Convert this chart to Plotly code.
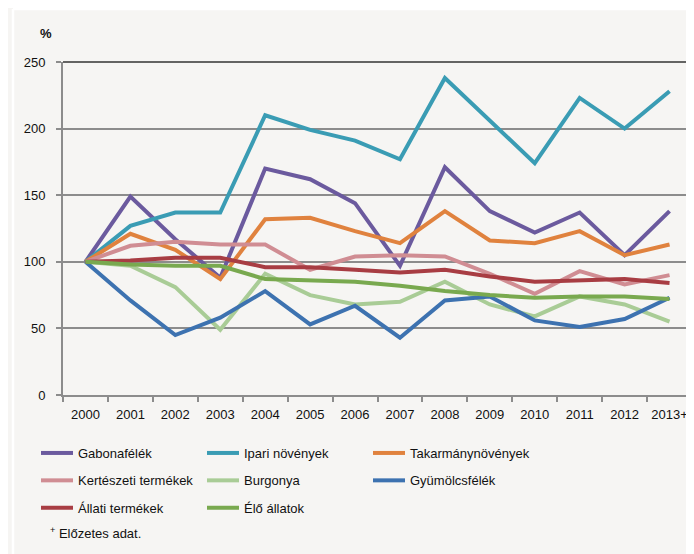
import plotly.graph_objects as go

years = ["2000", "2001", "2002", "2003", "2004", "2005", "2006", "2007",
         "2008", "2009", "2010", "2011", "2012", "2013+"]

gabonafelek = [100, 149, 117, 88, 170, 162, 144, 97, 171, 138, 122, 137, 105, 138]
ipari = [100, 127, 137, 137, 210, 199, 191, 177, 238, 206, 174, 223, 200, 228]
takarmany = [100, 121, 109, 87, 132, 133, 123, 114, 138, 116, 114, 123, 105, 113]
kerteszeti = [100, 112, 115, 113, 113, 94, 104, 105, 104, 91, 76, 93, 83, 90]
burgonya = [100, 97, 81, 49, 91, 75, 68, 70, 85, 68, 59, 74, 68, 55]
gyumolcs = [100, 71, 45, 58, 78, 53, 67, 43, 71, 74, 56, 51, 57, 73]
allati = [100, 101, 103, 103, 96, 96, 94, 92, 94, 89, 85, 86, 87, 84]
elo_allatok = [100, 98, 97, 97, 87, 86, 85, 82, 78, 75, 73, 74, 74, 72]

series = [
    ("Gabonafélék", gabonafelek, "#6b5a9e", "legend"),
    ("Ipari növények", ipari, "#3a9cb4", "legend2"),
    ("Takarmánynövények", takarmany, "#e0823e", "legend3"),
    ("Kertészeti termékek", kerteszeti, "#d08d93", "legend"),
    ("Burgonya", burgonya, "#a9cc96", "legend2"),
    ("Gyümölcsfélék", gyumolcs, "#3d72b0", "legend3"),
    ("Állati termékek", allati, "#a83d43", "legend"),
    ("Élő állatok", elo_allatok, "#79a94f", "legend2"),
]

FONT = "Liberation Sans, Arial, sans-serif"
FS = 13
BG = "#f6f5f3"

fig = go.Figure()
for i, (name, vals, color, leg) in enumerate(series):
    fig.add_trace(go.Scatter(
        x=years, y=vals, name=name, mode="lines",
        line=dict(color=color, width=4),
        legend=leg, legendgroup=name,
    ))

# page body has an 8px margin: figure is sized to fit the 694x554 window
OFF = 8
W, H = 694 - OFF, 554 - OFF
L, R, T, B = 55, 2, 54, 159
pw, ph = W - L - R, H - T - B

def px_x(px):
    return (px - OFF - L) / pw

def px_y(py):
    return (H - B - (py - OFF)) / ph

legend_common = dict(
    orientation="v", xref="container", yref="container",
    xanchor="left", yanchor="top", bgcolor="rgba(0,0,0,0)",
    font=dict(family=FONT, size=FS, color="#111"),
    tracegroupgap=7.5, itemwidth=32,
)

LEG_TOP = 1 - (438 - OFF) / H

fig.update_layout(
    width=W, height=H,
    margin=dict(l=L, r=R, t=T, b=B, autoexpand=False),
    paper_bgcolor=BG, plot_bgcolor=BG,
    font=dict(family=FONT, size=FS, color="#111"),
    legend=dict(x=28 / W, y=LEG_TOP, **legend_common),
    legend2=dict(x=194 / W, y=LEG_TOP, **legend_common),
    legend3=dict(x=360 / W, y=LEG_TOP, **legend_common),
    xaxis=dict(
        type="category", range=[-0.5, 13.5],
        showgrid=False, showline=True, linecolor="#8c8c8c", linewidth=2,
        ticks="outside", tickson="boundaries", ticklen=5, tickcolor="#8c8c8c",
        tickwidth=1.5, tickfont=dict(family=FONT, size=FS, color="#111"),
        tickangle=0, ticklabelstandoff=6,
    ),
    yaxis=dict(
        range=[0, 250], tickvals=[0, 50, 100, 150, 200, 250],
        showgrid=True, gridcolor="#8c8c8c", gridwidth=1.5,
        showline=True, linecolor="#8c8c8c", linewidth=2,
        ticks="outside", ticklen=5, tickcolor="#8c8c8c", tickwidth=1.5,
        zeroline=False, ticklabelstandoff=8,
        tickfont=dict(family=FONT, size=FS, color="#111"),
    ),
    shapes=[
        dict(type="line", xref="paper", yref="paper", x0=0, x1=1, y0=1, y1=1,
             line=dict(color="#333", width=1.5)),
        dict(type="line", xref="paper", yref="paper", x0=1, x1=1, y0=0, y1=1,
             line=dict(color="#333", width=1.5)),
        dict(type="line", xref="paper", yref="paper", x0=px_x(13), x1=px_x(700),
             y0=px_y(9), y1=px_y(9), line=dict(color="#ffffff", width=2.5)),
        dict(type="line", xref="paper", yref="paper", x0=px_x(13), x1=px_x(13),
             y0=px_y(9), y1=px_y(560), line=dict(color="#ffffff", width=2.5)),
    ],
    annotations=[
        dict(text="<b>%</b>", xref="paper", yref="paper", x=px_x(46), y=px_y(33),
             xanchor="center", yanchor="middle", showarrow=False,
             font=dict(family=FONT, size=FS, color="#111")),
        dict(text="<sup>+</sup> Előzetes adat.", xref="paper", yref="paper",
             x=px_x(48), y=px_y(533), xanchor="left", yanchor="middle",
             showarrow=False, font=dict(family=FONT, size=FS, color="#111")),
    ],
)

fig.write_html("out.html")
